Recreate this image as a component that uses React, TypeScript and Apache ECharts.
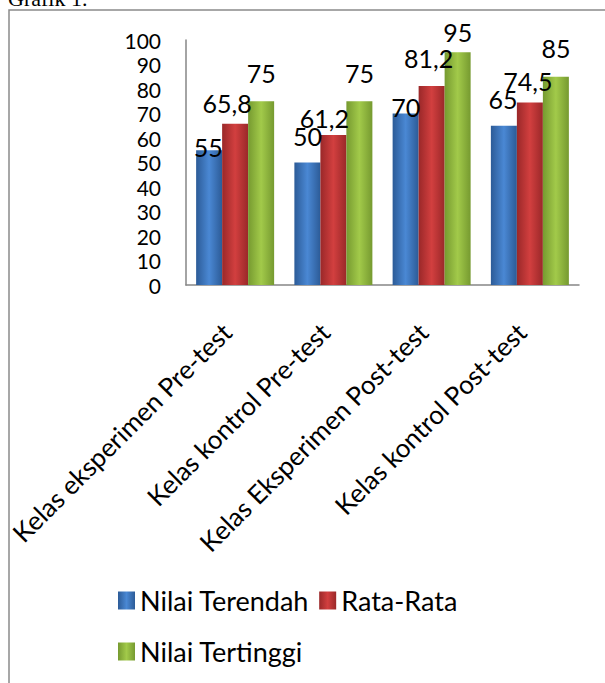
import React, { useEffect, useRef } from "react";
import * as echarts from "echarts";

// ---- data ----
const categories = [
  "Kelas eksperimen Pre-test",
  "Kelas kontrol Pre-test",
  "Kelas Eksperimen Post-test",
  "Kelas kontrol Post-test",
];
const seriesNames = ["Nilai Terendah", "Rata-Rata", "Nilai Tertinggi"];
const nilaiTerendah = [55, 50, 70, 65];
const rataRata = [65.8, 61.2, 81.2, 74.5];
const nilaiTertinggi = [75, 75, 95, 85];
const yMin = 0;
const yMax = 100;
const yStep = 10;

// ---- label placement style (px), not data ----
const labelRise = [
  [3, 27, 7, 27],
  [21, 17, 28, 21],
  [28, 28, 20, 29],
];
const labelShift = [
  [-1, 0, 0, -1],
  [-8, -9, -3, -2],
  [0, 0, 0, 0],
];

const gradients = [
  ["#2c5b97", "#4a88d4", "#2c5b97"],
  ["#9a2829", "#d23f3f", "#9a2829"],
  ["#769a30", "#a2ca4a", "#769a30"],
];

const FONT = "Lato";

export default function App() {
  const ref = useRef<HTMLDivElement>(null);
  useEffect(() => {
    if (!ref.current) return;
    const chart = echarts.init(ref.current, undefined, { renderer: "svg" });
    const values = [nilaiTerendah, rataRata, nilaiTertinggi];
    const series = values.map((vals, s) => ({
      name: seriesNames[s],
      type: "bar",
      barWidth: 26,
      barGap: "0%",
      itemStyle: {
        color: new echarts.graphic.LinearGradient(1, 0, 0, 0, [
          { offset: 0, color: gradients[s][0] },
          { offset: 0.5, color: gradients[s][1] },
          { offset: 1, color: gradients[s][2] },
        ]),
      },
      label: {
        show: true,
        position: "top",
        verticalAlign: "middle",
        fontFamily: FONT,
        fontSize: 25,
        color: "#000",
        formatter: (p: any) => String(p.value).replace(".", ","),
      },
      data: vals.map((v, i) => ({
        value: v,
        label: { distance: labelRise[s][i], offset: [labelShift[s][i], 0] },
      })),
    }));
    chart.setOption({
      animation: false,
      backgroundColor: "#fff",
      graphic: [
        {
          type: "rect",
          shape: { x: 9, y: 10, width: 800, height: 800 },
          style: { fill: "none", stroke: "#8a8a8a", lineWidth: 1.5 },
          silent: true,
        },
        {
          type: "text",
          x: 8,
          y: -2,
          style: {
            text: "Grafik 1.",
            fontFamily: "Liberation Serif",
            fontSize: 22,
            fill: "#000",
            verticalAlign: "middle",
          },
        },
      ],
      legend: {
        left: 113,
        top: 575,
        width: 420,
        itemWidth: 17,
        itemHeight: 18,
        itemGap: 10,
        icon: "rect",
        textStyle: {
          fontFamily: FONT,
          fontSize: 27,
          color: "#000",
          lineHeight: 41,
        },
        data: seriesNames,
      },
      grid: { left: 186, right: 26, top: 40, height: 245, containLabel: false },
      xAxis: {
        type: "category",
        data: categories,
        axisLine: { show: true, lineStyle: { color: "#868686", width: 1.5 } },
        axisTick: { show: false },
        axisLabel: {
          interval: 0,
          rotate: 45,
          margin: 34,
          padding: [0, 12, 0, 0],
          fontFamily: FONT,
          fontSize: 26,
          color: "#000",
        },
      },
      yAxis: {
        type: "value",
        min: yMin,
        max: yMax,
        interval: yStep,
        axisLine: { show: true, lineStyle: { color: "#868686", width: 1.5 } },
        axisTick: { show: false },
        splitLine: { show: false },
        axisLabel: { margin: 25, fontFamily: FONT, fontSize: 21, color: "#000" },
      },
      series,
    });
    return () => chart.dispose();
  }, []);
  return (
    <div
      ref={ref}
      style={{ position: "absolute", left: 0, top: 0, width: 605, height: 683 }}
    />
  );
}
